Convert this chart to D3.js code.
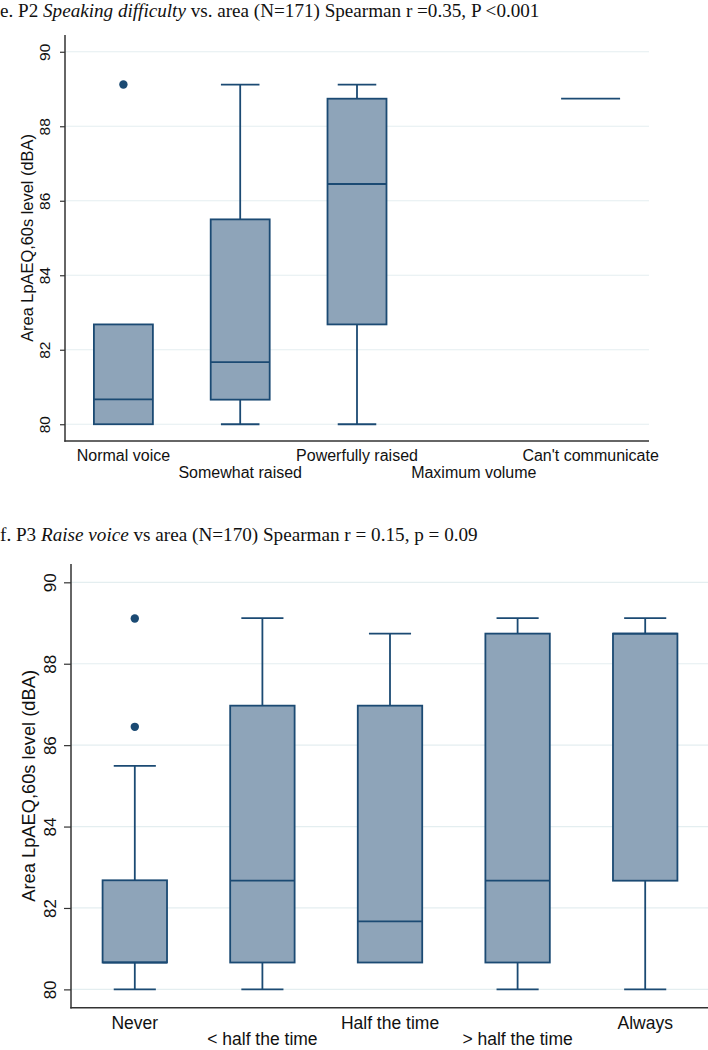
<!DOCTYPE html>
<html><head><meta charset="utf-8">
<script src="https://cdn.jsdelivr.net/npm/d3@7"></script>
<style>body{margin:0;background:#fff}</style>
</head><body>
<svg id="c" width="708" height="1050"></svg>
<script>
// ---- Panel e: P2 Speaking difficulty ----
const catsE = ["Normal voice","Somewhat raised","Powerfully raised","Maximum volume","Can't communicate"];
const lowE  = [80,    80,    80,    null, 88.74];
const q1E   = [80,    80.66, 82.68, null, 88.74];
const medE  = [80.67, 81.67, 86.45, null, 88.74];
const q3E   = [82.68, 85.50, 88.74, null, 88.74];
const highE = [82.68, 89.12, 89.12, null, 88.74];
const outE  = [[89.12], [], [], [], []];

// ---- Panel f: P3 Raise voice ----
const catsF = ["Never","< half the time","Half the time","> half the time","Always"];
const lowF  = [80,    80,    80.66, 80,    80];
const q1F   = [80.66, 80.66, 80.66, 80.66, 82.67];
const medF  = [80.66, 82.67, 81.67, 82.67, 88.74];
const q3F   = [82.68, 86.97, 86.97, 88.74, 88.74];
const highF = [85.49, 89.12, 88.74, 89.12, 89.12];
const outF  = [[89.11, 86.45], [], [], [], []];

const yTicks = [80, 82, 84, 86, 88, 90];
const yLabel = "Area LpAEQ,60s level (dBA)";

const svg = d3.select("#c");
const NAVY = "#1b4a73", FILL = "#8ea4b9", GRID = "#e4eef0", AXIS = "#333333";

function panel(c) {
  const g = svg.append("g");
  const x = d3.scaleBand().domain(c.cats).range([c.x0, c.x1]).padding(0);
  const y = d3.scaleLinear().domain([79.55, 90.45]).range([c.yBot, c.yTop]);
  const bw = x.bandwidth() * 0.505, cw = x.bandwidth() * 0.33;

  // grid
  g.selectAll(".grid").data(yTicks).join("line")
    .attr("x1", c.x0).attr("x2", c.x1)
    .attr("y1", d => y(d)).attr("y2", d => y(d))
    .attr("stroke", GRID).attr("stroke-width", 1.2);

  // boxes
  c.cats.forEach((cat, i) => {
    if (c.q1[i] == null) return;
    const cx = x(cat) + x.bandwidth() / 2;
    const bg = g.append("g");
    [[c.low[i], c.q1[i]], [c.q3[i], c.high[i]]].forEach(([a, b]) => {
      if (a === b) return;
      bg.append("line").attr("x1", cx).attr("x2", cx).attr("y1", y(a)).attr("y2", y(b))
        .attr("stroke", NAVY).attr("stroke-width", 1.8);
    });
    [c.low[i], c.high[i]].forEach((v, k) => {
      if ((k === 0 && v === c.q1[i]) || (k === 1 && v === c.q3[i])) return;
      bg.append("line").attr("x1", cx - cw / 2).attr("x2", cx + cw / 2).attr("y1", y(v)).attr("y2", y(v))
        .attr("stroke", NAVY).attr("stroke-width", 1.8);
    });
    bg.append("rect").attr("x", cx - bw / 2).attr("width", bw)
      .attr("y", y(c.q3[i])).attr("height", Math.max(0, y(c.q1[i]) - y(c.q3[i])))
      .attr("fill", FILL).attr("stroke", NAVY).attr("stroke-width", 1.8);
    bg.append("line").attr("x1", cx - bw / 2).attr("x2", cx + bw / 2)
      .attr("y1", y(c.med[i])).attr("y2", y(c.med[i]))
      .attr("stroke", NAVY).attr("stroke-width", 1.8);
    c.out[i].forEach(v => {
      bg.append("circle").attr("cx", cx).attr("cy", y(v)).attr("r", 4.2).attr("fill", NAVY);
    });
  });

  // y axis
  const ya = g.append("g").attr("transform", `translate(${c.x0},0)`)
    .call(d3.axisLeft(y).tickValues(yTicks).tickSize(c.tick).tickPadding(3).tickFormat(d3.format("d")));
  ya.select(".domain").remove();
  ya.selectAll(".tick line").attr("stroke", AXIS).attr("stroke-width", 1.2);
  ya.selectAll(".tick text")
    .attr("x", null).attr("dy", null)
    .attr("transform", `translate(${c.tickLabX - c.x0},0) rotate(-90)`)
    .attr("text-anchor", "middle").attr("dy", "0.35em")
    .attr("font-family", "Liberation Sans, Arial, sans-serif")
    .attr("font-size", c.tickFs).attr("fill", "#111");
  g.append("line").attr("x1", c.x0).attr("x2", c.x0).attr("y1", c.yTop).attr("y2", c.yBot + 0.7)
    .attr("stroke", AXIS).attr("stroke-width", 1.5);

  // x axis
  g.append("line").attr("x1", c.x0 - 0.7).attr("x2", c.x1).attr("y1", c.yBot).attr("y2", c.yBot)
    .attr("stroke", AXIS).attr("stroke-width", 1.5);
  const xa = g.append("g").attr("transform", `translate(0,${c.yBot})`)
    .call(d3.axisBottom(x).tickSize(0).tickPadding(0));
  xa.select(".domain").remove();
  xa.selectAll(".tick text")
    .attr("y", (d, i) => i % 2 === 0 ? c.row1 : c.row2).attr("dy", null)
    .attr("font-family", "Liberation Sans, Arial, sans-serif")
    .attr("font-size", c.xFs).attr("fill", "#111");

  // y title
  g.append("text").attr("transform", `translate(${c.yTitleX},${(y(80) + y(90)) / 2}) rotate(-90)`)
    .attr("text-anchor", "middle").attr("dy", "0.35em")
    .attr("font-family", "Liberation Sans, Arial, sans-serif")
    .attr("font-size", c.yTitleFs).attr("fill", "#111").text(yLabel);

  // panel title
  const t = svg.append("text").attr("x", 0).attr("y", c.titleY)
    .attr("font-family", "Liberation Serif, Times New Roman, serif")
    .attr("font-size", 17).attr("fill", "#111");
  c.title.forEach(p => t.append("tspan").attr("font-style", p.it ? "italic" : "normal").text(p.s));
  const w = t.node().getComputedTextLength();
  t.attr("font-size", 17 * c.titleW / w);
}

panel({
  cats: catsE, low: lowE, q1: q1E, med: medE, q3: q3E, high: highE, out: outE,
  x0: 65, x1: 649, yTop: 35, yBot: 441, tick: 5, tickLabX: 45, tickFs: 15.5,
  row1: 19.7, row2: 36.7, xFs: 16, yTitleX: 27, yTitleFs: 16.4,
  titleY: 17, titleW: 540,
  title: [{s: "e. P2 "}, {s: "Speaking difficulty", it: true}, {s: " vs. area (N=171) Spearman r =0.35, P <0.001"}]
});

panel({
  cats: catsF, low: lowF, q1: q1F, med: medF, q3: q3F, high: highF, out: outF,
  x0: 71, x1: 709, yTop: 564, yBot: 1007.7, tick: 7, tickLabX: 50, tickFs: 17,
  row1: 21.5, row2: 37.3, xFs: 17.5, yTitleX: 29, yTitleFs: 18.3,
  titleY: 541, titleW: 478,
  title: [{s: "f. P3 "}, {s: "Raise voice", it: true}, {s: " vs area (N=170) Spearman r = 0.15, p = 0.09"}]
});
</script>
</body></html>
